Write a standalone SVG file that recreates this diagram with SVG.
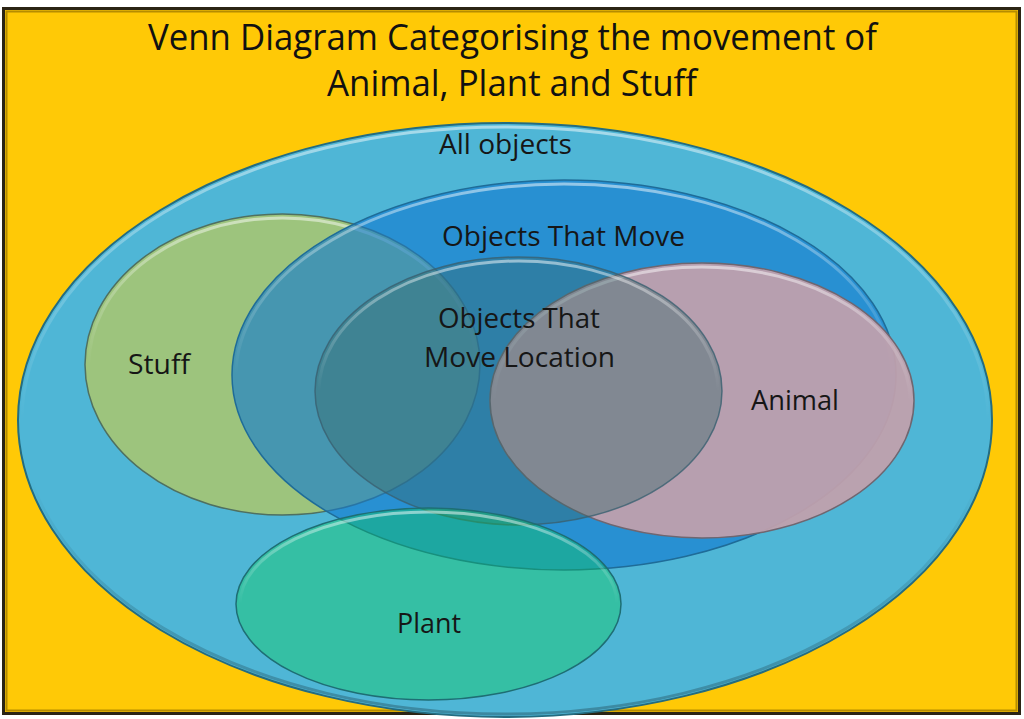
<svg xmlns="http://www.w3.org/2000/svg" width="1024" height="719" viewBox="0 0 1024 719">
  <defs>
    <linearGradient id="hl" x1="0" y1="0" x2="0" y2="1">
      <stop offset="0" stop-color="#ffffff" stop-opacity="0.5"/>
      <stop offset="0.25" stop-color="#ffffff" stop-opacity="0.22"/>
      <stop offset="0.5" stop-color="#ffffff" stop-opacity="0"/>
      <stop offset="1" stop-color="#ffffff" stop-opacity="0"/>
    </linearGradient>
    <linearGradient id="sh" x1="0" y1="0" x2="0" y2="1">
      <stop offset="0" stop-color="#000000" stop-opacity="0"/>
      <stop offset="0.6" stop-color="#000000" stop-opacity="0"/>
      <stop offset="1" stop-color="#000000" stop-opacity="0.25"/>
    </linearGradient>
  </defs>
  <style>
    .lbl { font-family: "Open Sans", "Liberation Sans", sans-serif; fill: #161616; }
    .title { font-family: "Open Sans", "Liberation Sans", sans-serif; fill: #111111; font-size: 36px; }
    .node { font-size: 26.5px; }
    .hl { fill: none; stroke: url(#hl); stroke-width: 3; }
    .sh { fill: none; stroke: url(#sh); stroke-width: 3; }
  </style>

  <rect x="0" y="0" width="1024" height="719" fill="#ffffff"/>
  <g id="frame">
    <rect x="3.5" y="8.5" width="1016" height="705" fill="#FFC906" stroke="#2B2414" stroke-width="3"/>
    <rect x="6.5" y="11.5" width="1010" height="699" fill="none" stroke="#B58C00" stroke-width="2"/>
  </g>

  <g id="title">
    <text class="title" x="512.5" y="50" text-anchor="middle" textLength="729" lengthAdjust="spacingAndGlyphs">Venn Diagram Categorising the movement of</text>
    <text class="title" x="512" y="96" text-anchor="middle" textLength="370" lengthAdjust="spacingAndGlyphs">Animal, Plant and Stuff</text>
  </g>

  <g id="connectors"/>

  <g id="all-objects">
    <ellipse cx="505" cy="420" rx="487" ry="297" fill="#4FB6D6" stroke="#246C80" stroke-width="2"/>
    <ellipse cx="505" cy="420" rx="483" ry="293" class="hl"/>
    <ellipse cx="505" cy="420" rx="484" ry="294" class="sh"/>
    <text class="lbl node" x="505.5" y="154" text-anchor="middle" textLength="133" lengthAdjust="spacingAndGlyphs">All objects</text>
  </g>

  <g id="stuff">
    <ellipse cx="282.5" cy="364.5" rx="197.5" ry="150.5" fill="#9DC47D" stroke="#4F7060" stroke-width="1.5"/>
    <ellipse cx="282.5" cy="364.5" rx="193.5" ry="146.5" class="hl"/>
    <text class="lbl node" x="159" y="374" text-anchor="middle" textLength="62" lengthAdjust="spacingAndGlyphs">Stuff</text>
  </g>

  <g id="objects-that-move">
    <ellipse cx="564" cy="375" rx="332" ry="195" fill="rgb(16,121,208)" fill-opacity="0.62" stroke="#1F6C98" stroke-width="1.5"/>
    <ellipse cx="564" cy="375" rx="328" ry="191" class="hl"/>
    <text class="lbl node" x="563.5" y="246" text-anchor="middle" textLength="243" lengthAdjust="spacingAndGlyphs">Objects That Move</text>
  </g>

  <g id="animal">
    <ellipse cx="702" cy="400.5" rx="212" ry="137.5" fill="#C3A0AC" fill-opacity="0.93" stroke="#6F6670" stroke-width="1.5"/>
    <ellipse cx="702" cy="400.5" rx="208" ry="133.5" class="hl"/>
    <text class="lbl node" x="795" y="410" text-anchor="middle" textLength="88" lengthAdjust="spacingAndGlyphs">Animal</text>
  </g>

  <g id="objects-that-move-location">
    <ellipse cx="518.5" cy="391" rx="203.5" ry="134" fill="rgb(55,105,108)" fill-opacity="0.42" stroke="#3A6070" stroke-opacity="0.8" stroke-width="1.5"/>
    <ellipse cx="518.5" cy="391" rx="199.5" ry="130" class="hl"/>
    <text class="lbl node" x="519" y="328" text-anchor="middle" textLength="162" lengthAdjust="spacingAndGlyphs">Objects That</text>
    <text class="lbl node" x="519.5" y="367" text-anchor="middle" textLength="191" lengthAdjust="spacingAndGlyphs">Move Location</text>
  </g>

  <g id="plant">
    <ellipse cx="428.5" cy="604" rx="192.5" ry="96" fill="rgb(10,205,80)" fill-opacity="0.37" stroke="#1E6E74" stroke-width="1.5"/>
    <ellipse cx="428.5" cy="604" rx="188.5" ry="92" class="hl"/>
    <text class="lbl node" x="429" y="633" text-anchor="middle" textLength="64" lengthAdjust="spacingAndGlyphs">Plant</text>
  </g>
</svg>
